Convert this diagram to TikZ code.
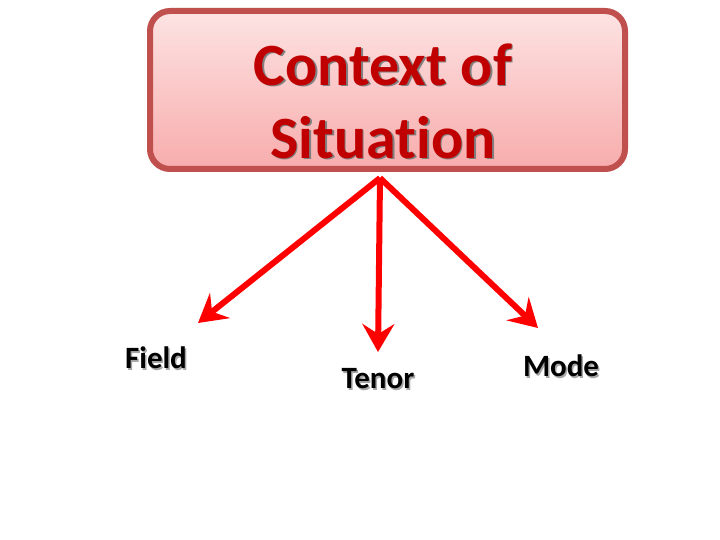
\documentclass[tikz,border=0pt]{standalone}
\usepackage{fontspec}
\setmainfont{Carlito}[Ligatures=NoCommon]
\usetikzlibrary{arrows.meta}

\definecolor{boxedge}{HTML}{C0504D}
\definecolor{boxtop}{HTML}{FDE3E3}
\definecolor{boxbottom}{HTML}{F8ACAC}
\definecolor{titlered}{HTML}{C00000}

\tikzset{
  ctxbox/.style={draw=boxedge, line width=6pt, rounded corners=20pt, top color=boxtop, bottom color=boxbottom, minimum width=475pt, minimum height=158pt, inner sep=0pt},
  titletext/.style={font=\bfseries\fontsize{60}{73}\selectfont, align=center, inner sep=0pt},
  labeltext/.style={font=\bfseries\fontsize{31}{36}\selectfont, inner sep=0pt},
  branch/.style={draw=red, line width=6pt, -{Stealth[length=28pt,width=32pt,inset=10pt]}}
}

\begin{document}
\begin{tikzpicture}[x=1pt,y=-1pt]
				\useasboundingbox[fill=white] (0,0) rectangle (720,540);
				\node[ctxbox] (ctx) at (387.5,90) {};
				\node[titletext, text=gray] at (384.5,102.5) {Context of\\Situation};
				\node[titletext, text=titlered] (title) at (383,101) {Context of\\Situation};
				% labels below the box
				\node[labeltext, text=gray!70] at (157.5,359.5) {Field};
				\node[labeltext] (field) at (156,358) {Field};
				\node[labeltext, text=gray!70] at (379.5,380.5) {Tenor};
				\node[labeltext] (tenor) at (378,379) {Tenor};
				\node[labeltext, text=gray!70] at (562.5,367.5) {Mode};
				\node[labeltext] (mode) at (561,366) {Mode};
				% arrows
				\coordinate (root) at (380,178);
				\coordinate (fieldtip) at (198,323);
				\coordinate (tenortip) at (378,352);
				\coordinate (modetip) at (538,328);
				\draw[branch] (root) -- (fieldtip);
				\draw[branch] (root) -- (tenortip);
				\draw[branch] (root) -- (modetip);
			\end{tikzpicture}
\end{document}
